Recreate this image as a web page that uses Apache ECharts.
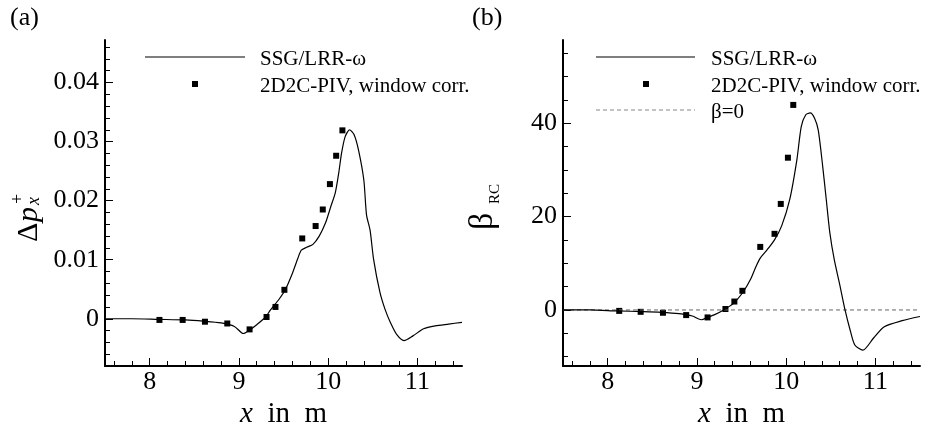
<!DOCTYPE html>
<html>
<head>
<meta charset="utf-8">
<script src="https://cdn.jsdelivr.net/npm/echarts@6/dist/echarts.min.js"></script>
<style>
html,body{margin:0;padding:0;background:#fff;}
#c{width:942px;height:429px;}
</style>
</head>
<body>
<div id="c"></div>
<script>
// ---- data ----
const lineXa = [7.5, 7.8, 8.1, 8.4, 8.6, 8.8, 8.95, 9.05, 9.12, 9.2, 9.3, 9.35, 9.45, 9.52, 9.6, 9.66, 9.7, 9.76, 9.83, 9.9, 9.97, 10.03, 10.08, 10.12, 10.15, 10.19, 10.24, 10.29, 10.34, 10.4, 10.43, 10.47, 10.51, 10.58, 10.64, 10.7, 10.77, 10.85, 10.95, 11.07, 11.2, 11.35, 11.5];
const lineYa = [0, 0, -0.0001, -0.0002, -0.0004, -0.0007, -0.0013, -0.0025, -0.0019, -0.001, 0.0003, 0.0014, 0.0033, 0.0049, 0.0077, 0.0102, 0.0116, 0.0121, 0.0126, 0.014, 0.0162, 0.019, 0.0213, 0.0248, 0.028, 0.0308, 0.032, 0.0312, 0.0286, 0.0235, 0.0176, 0.015, 0.01, 0.0045, 0.0015, -0.0007, -0.0027, -0.0037, -0.0029, -0.0017, -0.0012, -0.0009, -0.0006];
const pivXa = [8.11, 8.37, 8.62, 8.87, 9.12, 9.31, 9.41, 9.51, 9.71, 9.86, 9.94, 10.02, 10.09, 10.16];
const pivYa = [-0.0002, -0.0002, -0.0005, -0.0008, -0.0018, 0.0003, 0.002, 0.0049, 0.0136, 0.0157, 0.0185, 0.0228, 0.0276, 0.0319];

const lineXb = [7.5, 7.8, 8.1, 8.4, 8.6, 8.8, 8.95, 9.05, 9.12, 9.2, 9.3, 9.41, 9.52, 9.6, 9.66, 9.71, 9.78, 9.87, 9.95, 10.04, 10.12, 10.17, 10.22, 10.27, 10.32, 10.36, 10.41, 10.45, 10.49, 10.54, 10.6, 10.66, 10.72, 10.77, 10.86, 10.98, 11.1, 11.3, 11.5];
const lineYb = [0, 0, -0.2, -0.35, -0.5, -0.8, -1.3, -2.1, -1.6, -1.0, 0, 1.4, 3.9, 6.5, 9.2, 11.1, 12.7, 15.0, 18.0, 23.6, 32.1, 39.3, 41.8, 42.2, 41.0, 38.5, 30.7, 23.6, 16.5, 10.7, 5.5, 0, -4.5, -7.5, -8.6, -6.0, -3.6, -2.3, -1.4];
const pivXb = [8.13, 8.37, 8.62, 8.88, 9.12, 9.32, 9.42, 9.51, 9.71, 9.87, 9.94, 10.02, 10.08];
const pivYb = [-0.2, -0.4, -0.6, -1.1, -1.6, 0.2, 1.8, 4.1, 13.5, 16.3, 22.7, 32.6, 43.9];
const betaZeroX = [7.5, 11.5];
const betaZeroY = [0, 0];

const xMajor = [8, 9, 10, 11];
const xMinor = [7.6, 7.8, 8.2, 8.4, 8.6, 8.8, 9.2, 9.4, 9.6, 9.8, 10.2, 10.4, 10.6, 10.8, 11.2, 11.4];
const yMajorA = [0, 0.01, 0.02, 0.03, 0.04];
const yMinorA = [-0.006, -0.004, -0.002, 0.002, 0.004, 0.006, 0.008, 0.012, 0.014, 0.016, 0.018, 0.022, 0.024, 0.026, 0.028, 0.032, 0.034, 0.036, 0.038, 0.042, 0.044, 0.046];
const yMajorB = [0, 20, 40];
const yMinorB = [-10, -5, 5, 10, 15, 25, 30, 35, 45, 50, 55];

const legendLine = 'SSG/LRR-\u03c9';
const legendPiv = '2D2C-PIV, window corr.';
const legendBeta = '\u03b2=0';

// ---- helpers ----
const zip = (xs, ys) => xs.map((x, i) => [x, ys[i]]);
const FONT = 'Liberation Serif';
const BLACK = '#000';

const rectA = {left: 105, top: 40, width: 357, height: 326};
const rectB = {left: 563, top: 40, width: 357, height: 326};

function grid(r) { return Object.assign({outerBoundsMode: 'none', containLabel: false}, r); }

function xMain(gi) {
  return {
    type: 'value', gridIndex: gi, min: 7.5, max: 11.5,
    axisLine: {show: true, onZero: false, lineStyle: {color: BLACK, width: 2}},
    axisTick: {show: true, inside: true, length: 8, customValues: xMajor, lineStyle: {color: BLACK, width: 1}},
    axisLabel: {show: true, customValues: xMajor, color: BLACK, fontFamily: FONT, fontSize: 26, margin: 3},
    splitLine: {show: false},
    name: '{i|x}  in  m', nameLocation: 'middle', nameGap: 30,
    nameTextStyle: {color: BLACK, fontFamily: FONT, fontSize: 29,
      rich: {i: {fontStyle: 'italic', fontFamily: FONT, fontSize: 29, color: BLACK}}}
  };
}
function xMinorAx(gi) {
  return {
    type: 'value', gridIndex: gi, min: 7.5, max: 11.5,
    axisLine: {show: false, onZero: false},
    axisTick: {show: true, inside: true, length: 5, customValues: xMinor, lineStyle: {color: BLACK, width: 1}},
    axisLabel: {show: false}, splitLine: {show: false}
  };
}
function yMain(gi, min, max, major, fmt) {
  return {
    type: 'value', gridIndex: gi, min: min, max: max,
    axisLine: {show: true, onZero: false, lineStyle: {color: BLACK, width: 2}},
    axisTick: {show: true, inside: true, length: 8, customValues: major, lineStyle: {color: BLACK, width: 1}},
    axisLabel: {show: true, customValues: major, color: BLACK, fontFamily: FONT, fontSize: 26, margin: 6, formatter: fmt},
    splitLine: {show: false}
  };
}
function yMinorAx(gi, min, max, minor) {
  return {
    type: 'value', gridIndex: gi, min: min, max: max,
    axisLine: {show: false, onZero: false},
    axisTick: {show: true, inside: true, length: 5, customValues: minor, lineStyle: {color: BLACK, width: 1}},
    axisLabel: {show: false}, splitLine: {show: false}
  };
}

const fmtA = v => String(+(+v).toFixed(3));
const fmtB = v => String(Math.round(v));

const txt = (x, y, s, size, extra) => ({
  type: 'text', x: x, y: y, silent: true,
  style: Object.assign({text: s, fill: BLACK, font: size + 'px "' + FONT + '"', verticalAlign: 'middle', align: 'left'}, extra || {})
});
const hline = (x1, x2, y, stroke, dash) => ({
  type: 'line', silent: true,
  shape: {x1: x1, y1: y, x2: x2, y2: y},
  style: {stroke: stroke, lineWidth: 1.2, lineDash: dash || null}
});
const sq = (cx, cy) => ({type: 'rect', silent: true, shape: {x: cx - 3, y: cy - 3, width: 6, height: 6}, style: {fill: BLACK}});
const rt = (x, y, s, font) => ({type: 'text', x: x, y: y, style: {text: s, fill: BLACK, font: font, verticalAlign: 'top', align: 'left'}});

const graphics = [
  txt(10, 18, '(a)', 26),
  txt(472, 18, '(b)', 26),
  // legend (a)
  hline(145, 245, 57, BLACK),
  txt(260, 59, legendLine, 21),
  sq(195, 84),
  txt(260, 86, legendPiv, 21),
  // legend (b)
  hline(596, 695, 57, BLACK),
  txt(711, 59, legendLine, 21),
  sq(646, 84),
  txt(711, 86, legendPiv, 21),
  hline(596, 695, 110, '#888', [4, 3]),
  txt(711, 112, legendBeta, 21),
  // y title (a): Δp_x^+
  {type: 'group', x: 14, y: 242, rotation: Math.PI / 2, silent: true, children: [
    rt(0, 0, '\u0394', '30px "' + FONT + '"'),
    rt(20, 0, 'p', 'italic 30px "' + FONT + '"'),
    rt(37, 11, 'x', 'italic 18px "' + FONT + '"'),
    rt(38, -5, '+', '18px "' + FONT + '"')
  ]},
  // y title (b): β_RC
  {type: 'group', x: 466, y: 230, rotation: Math.PI / 2, silent: true, children: [
    rt(0, 0, '\u03b2', '34px "' + FONT + '"'),
    rt(26, 22, 'RC', '15px "' + FONT + '"')
  ]}
];

const option = {
  animation: false,
  backgroundColor: '#fff',
  grid: [grid(rectA), grid(rectB), grid(rectA), grid(rectB)],
  xAxis: [xMain(0), xMain(1), xMinorAx(2), xMinorAx(3)],
  yAxis: [
    yMain(0, -0.008, 0.0472, yMajorA, fmtA),
    yMain(1, -12, 57.8, yMajorB, fmtB),
    yMinorAx(2, -0.008, 0.0472, yMinorA),
    yMinorAx(3, -12, 57.8, yMinorB)
  ],
  series: [
    {type: 'line', name: legendLine, xAxisIndex: 0, yAxisIndex: 0, data: zip(lineXa, lineYa), showSymbol: false, smooth: 0.25,
      lineStyle: {color: BLACK, width: 1.2}, itemStyle: {color: BLACK}},
    {type: 'scatter', name: legendPiv, xAxisIndex: 0, yAxisIndex: 0, data: zip(pivXa, pivYa), symbol: 'rect', symbolSize: 6,
      itemStyle: {color: BLACK, opacity: 1}},
    {type: 'line', name: legendBeta, xAxisIndex: 1, yAxisIndex: 1, data: zip(betaZeroX, betaZeroY), showSymbol: false,
      lineStyle: {color: '#666', width: 1, type: [4, 3]}},
    {type: 'line', name: legendLine, xAxisIndex: 1, yAxisIndex: 1, data: zip(lineXb, lineYb), showSymbol: false, smooth: 0.25,
      lineStyle: {color: BLACK, width: 1.2}, itemStyle: {color: BLACK}},
    {type: 'scatter', name: legendPiv, xAxisIndex: 1, yAxisIndex: 1, data: zip(pivXb, pivYb), symbol: 'rect', symbolSize: 6,
      itemStyle: {color: BLACK, opacity: 1}}
  ],
  graphic: graphics
};

const chart = echarts.init(document.getElementById('c'), null, {renderer: 'canvas'});
chart.setOption(option);
</script>
</body>
</html>
